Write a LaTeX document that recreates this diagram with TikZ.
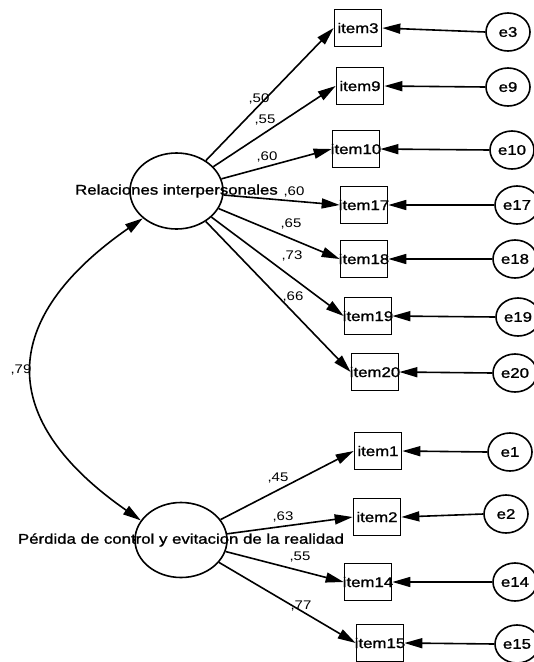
\documentclass[tikz,border=0pt]{standalone}
\usepackage{fontspec}
\usetikzlibrary{arrows.meta,shapes.geometric}
\newfontfamily\arialx{Liberation Sans}[FakeStretch=1.2,FakeBold=1.2]
\newfontfamily\arialc{Liberation Sans}[FakeStretch=1.2]
\tikzset{
  latent/.style={draw, ellipse, line width=1.6pt, inner sep=0pt},
  itembox/.style={draw, rectangle, line width=1.7pt, minimum width=47pt, minimum height=37pt, inner sep=0pt},
  errnode/.style={draw, ellipse, line width=1.6pt, minimum width=44pt, minimum height=38pt, inner sep=0pt, font=\arialx\fontsize{14}{16}\selectfont},
  lbl/.style={font=\arialx\fontsize{14}{16}\selectfont},
  coef/.style={inner sep=0pt, font=\arialc\fontsize{12.5}{14}\selectfont},
  arr/.style={line width=1.6pt, -{Triangle[length=18pt,width=10pt]}},
  covarr/.style={line width=1.6pt, {Triangle[length=18pt,width=10pt]}-{Triangle[length=18pt,width=10pt]}},
}
\begin{document}
\begin{tikzpicture}[x=1pt,y=-1pt]
\useasboundingbox (0,0) rectangle (534,662);
% latent factors
\node[latent, minimum width=93pt, minimum height=76pt, label={[lbl]center:Relaciones interpersonales}] (F1) at (176.5,191) {};
\node[latent, minimum width=92pt, minimum height=75pt, label={[lbl]center:Pérdida de control y evitacion de la realidad}] (F2) at (181,540) {};
% items
\foreach \n/\x/\y/\t in {i3/358/28/item3, i9/360/86/item9, i10/356/149/item10, i17/364/205/item17, i18/364/259/item18, i19/368/316/item19, i20/375/372/item20, i1/378/451/item1, i2/377/517/item2, i14/368/582/item14, i15/380/643/item15}{
  \node[itembox, label={[lbl]center:\t}] (\n) at (\x,\y) {};
}
% errors
\foreach \n/\x/\y/\t in {e3/508/32/e3, e9/508/87/e9, e10/512/150/e10, e17/517/205/e17, e18/515/259/e18, e19/518/317/e19, e20/515/373/e20, e1/510/452/e1, e2/506/514/e2, e14/515/582/e14, e15/517/644/e15}{
  \node[errnode] (\n) at (\x,\y) {\t};
}
% loadings
\foreach \i in {i3,i9,i10,i17,i18,i19,i20}{ \draw[arr] (F1) -- (\i.west); }
\foreach \i in {i1,i2,i14,i15}{ \draw[arr] (F2) -- (\i.west); }
% error arrows
\foreach \e/\i in {e3/i3,e9/i9,e10/i10,e17/i17,e18/i18,e19/i19,e20/i20,e1/i1,e2/i2,e14/i14,e15/i15}{
  \draw[arr] (\e.west) -- (\i.east);
}
% covariance
\draw[covarr] (F1.219) .. controls +(-145,101) and +(-145,-101) .. (F2.154);
% coefficients
\node[coef] (c3) at (259,99) {,50};
\node[coef] (c9) at (265,120) {,55};
\node[coef] (c10) at (267,157) {,60};
\node[coef] (c17) at (294,192) {,60};
\node[coef] (c18) at (291,224) {,65};
\node[coef] (c19) at (292,256) {,73};
\node[coef] (c20) at (293,297) {,66};
\node[coef] (c79) at (21,370) {,79};
\node[coef] (c1) at (278,478) {,45};
\node[coef] (c2) at (283,517) {,63};
\node[coef] (c14) at (300,557) {,55};
\node[coef] (c15) at (301,606) {,77};
\end{tikzpicture}
\end{document}
